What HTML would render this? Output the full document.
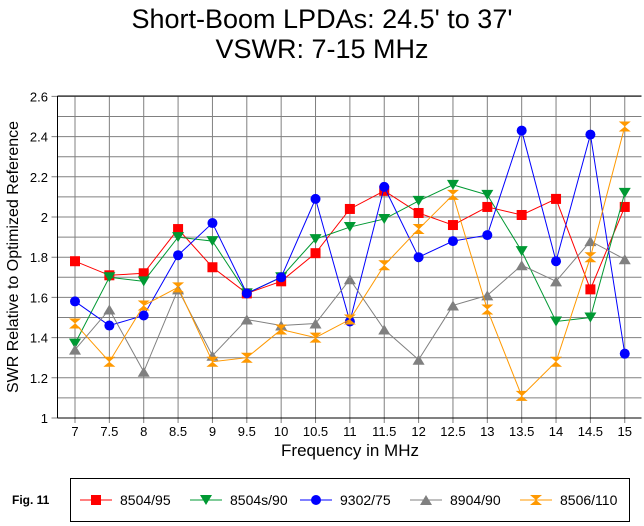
<!DOCTYPE html>
<html><head><meta charset="utf-8"><style>
body{margin:0;background:#fff;width:644px;height:526px;overflow:hidden}
svg{display:block;font-family:"Liberation Sans",Arial,sans-serif}
</style></head><body>
<svg id="s" width="644" height="526" xmlns="http://www.w3.org/2000/svg">
<text x="322" y="28" font-size="27" text-anchor="middle">Short-Boom LPDAs:  24.5' to 37'</text>
<text x="322" y="58" font-size="27" text-anchor="middle">VSWR:  7-15 MHz</text>
<text transform="translate(18,257) rotate(-90)" font-size="16" text-anchor="middle">SWR Relative to Optimized Reference</text>
<text x="350" y="456" font-size="17" text-anchor="middle">Frequency in MHz</text>
<text x="12" y="504" font-size="12" font-weight="bold">Fig. 11</text>
<rect x="70.5" y="478.5" width="559" height="43" fill="none" stroke="#000"/>
<g id="g"></g>
</svg>
<script>
var g=document.getElementById('g'),h='';
function Y(v){return 418-(v-1)*201}
function X(i){return 75+34.36*i}
var L=57.5,R=641.5,T=96,B=418;
for(var k=0;k<=16;k++){var y=Y(1+k*0.1);h+='<line x1="'+(k%2?L:L-6)+'" x2="'+R+'" y1="'+y+'" y2="'+y+'" stroke="#808080"/>';
 if(k%2==0){var v=(1+k*0.1);var s=(Math.round(v*10)/10).toString();h+='<text x="48" y="'+(y+5)+'" font-size="13" text-anchor="end">'+s+'</text>';}}
for(var i=0;i<17;i++){var x=X(i);h+='<line x1="'+x+'" x2="'+x+'" y1="'+T+'" y2="'+(B+5)+'" stroke="#808080"/>';
 h+='<text x="'+x+'" y="436" font-size="13" text-anchor="middle">'+(7+i*0.5)+'</text>';}
h+='<line x1="'+L+'" x2="'+R+'" y1="'+T+'" y2="'+T+'" stroke="#000"/>';
h+='<line x1="'+L+'" x2="'+L+'" y1="'+T+'" y2="'+B+'" stroke="#000"/>';
h+='<line x1="'+L+'" x2="'+R+'" y1="'+B+'" y2="'+B+'" stroke="#000"/>';
var S=[
['#f00','sq','8504/95',[1.78,1.71,1.72,1.94,1.75,1.62,1.68,1.82,2.04,2.13,2.02,1.96,2.05,2.01,2.09,1.64,2.05]],
['#009933','dn','8504s/90',[1.37,1.70,1.68,1.90,1.88,1.62,1.70,1.89,1.95,1.99,2.08,2.16,2.11,1.83,1.48,1.50,2.12]],
['#00f','ci','9302/75',[1.58,1.46,1.51,1.81,1.97,1.62,1.70,2.09,1.48,2.15,1.80,1.88,1.91,2.43,1.78,2.41,1.32]],
['#808080','up','8904/90',[1.34,1.54,1.23,1.64,1.31,1.49,1.46,1.47,1.69,1.44,1.29,1.56,1.61,1.76,1.68,1.88,1.79]],
['#ff9900','hg','8506/110',[1.47,1.28,1.56,1.65,1.28,1.30,1.44,1.40,1.49,1.76,1.94,2.11,1.54,1.11,1.28,1.80,2.45]]];
function M(t,x,y,c){
 if(t=='sq')return '<rect x="'+(x-5)+'" y="'+(y-5)+'" width="10" height="10" fill="'+c+'"/>';
 if(t=='ci')return '<circle cx="'+x+'" cy="'+y+'" r="5" fill="'+c+'"/>';
 if(t=='dn')return '<polygon points="'+(x-6)+','+(y-5)+' '+(x+6)+','+(y-5)+' '+x+','+(y+5)+'" fill="'+c+'"/>';
 if(t=='up')return '<polygon points="'+(x-6)+','+(y+5)+' '+(x+6)+','+(y+5)+' '+x+','+(y-5)+'" fill="'+c+'"/>';
 return '<polygon points="'+(x-6)+','+(y-5)+' '+(x+6)+','+(y-5)+' '+(x-6)+','+(y+5)+' '+(x+6)+','+(y+5)+'" fill="'+c+'"/>';}
var lx=[80,190,300,410,520];
S.forEach(function(s,j){var p=s[3].map(function(v,i){return X(i)+','+Y(v)}).join(' ');
 h+='<polyline points="'+p+'" fill="none" stroke="'+s[0]+'" stroke-width="1"/>';
 s[3].forEach(function(v,i){h+=M(s[1],X(i),Y(v),s[0])});
 var x=lx[j];h+='<line x1="'+x+'" x2="'+(x+32)+'" y1="500" y2="500" stroke="'+s[0]+'"/>'+M(s[1],x+16,500,s[0]);
 h+='<text x="'+(x+40)+'" y="505" font-size="14">'+s[2]+'</text>';});
g.innerHTML=h;
</script>
</body></html>
